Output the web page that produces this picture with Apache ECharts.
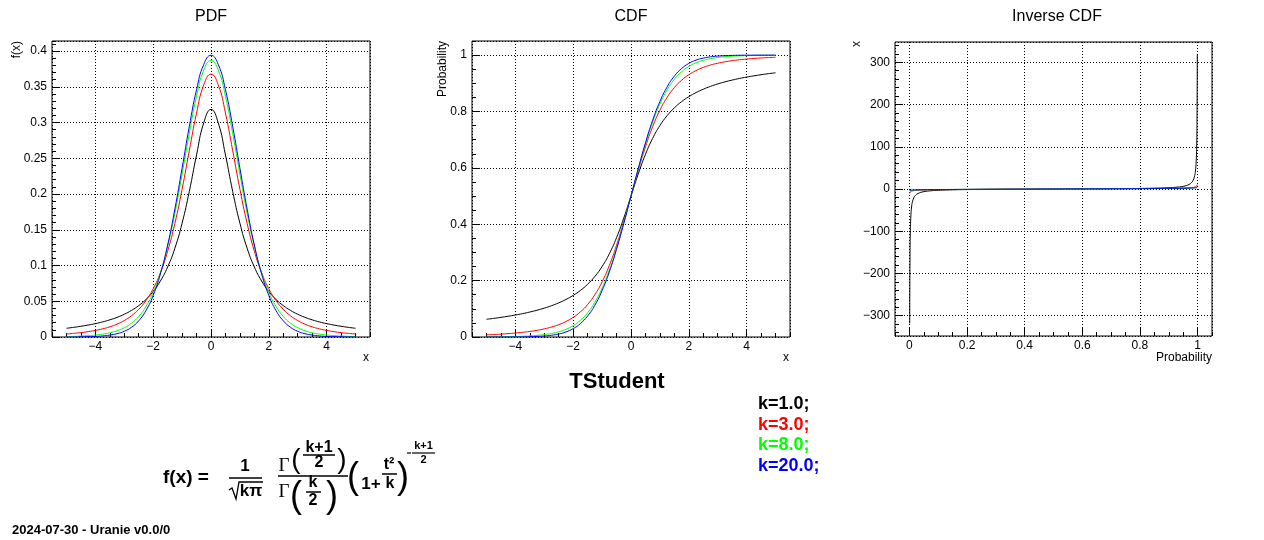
<!DOCTYPE html>
<html><head><meta charset="utf-8">
<script src="https://cdn.jsdelivr.net/npm/echarts@6/dist/echarts.min.js"></script>
<style>html,body{margin:0;padding:0;background:#fff}#c{width:1264px;height:540px}</style>
</head><body><div id="c"></div>
<script>
// ---------------- data ----------------
const xs = [-5,-4.75,-4.5,-4.25,-4,-3.75,-3.5,-3.25,-3,-2.75,-2.5,-2.25,-2,-1.75,-1.5,-1.25,-1,-0.75,-0.5,-0.25,0,0.25,0.5,0.75,1,1.25,1.5,1.75,2,2.25,2.5,2.75,3,3.25,3.5,3.75,4,4.25,4.5,4.75,5];
const pdfK1 = [0.0122,0.0135,0.0150,0.0167,0.0187,0.0211,0.0240,0.0275,0.0318,0.0372,0.0439,0.0525,0.0637,0.0784,0.0979,0.1242,0.1592,0.2037,0.2546,0.2996,0.3183,0.2996,0.2546,0.2037,0.1592,0.1242,0.0979,0.0784,0.0637,0.0525,0.0439,0.0372,0.0318,0.0275,0.0240,0.0211,0.0187,0.0167,0.0150,0.0135,0.0122];
const pdfK3 = [0.0042,0.0051,0.0061,0.0075,0.0092,0.0114,0.0142,0.0180,0.0230,0.0297,0.0387,0.0509,0.0675,0.0900,0.1200,0.1589,0.2067,0.2607,0.3132,0.3527,0.3676,0.3527,0.3132,0.2607,0.2067,0.1589,0.1200,0.0900,0.0675,0.0509,0.0387,0.0297,0.0230,0.0180,0.0142,0.0114,0.0092,0.0075,0.0061,0.0051,0.0042];
const pdfK8 = [0.0007,0.0009,0.0013,0.0019,0.0028,0.0040,0.0059,0.0088,0.0130,0.0194,0.0288,0.0426,0.0624,0.0899,0.1268,0.1731,0.2276,0.2848,0.3367,0.3734,0.3867,0.3734,0.3367,0.2848,0.2276,0.1731,0.1268,0.0899,0.0624,0.0426,0.0288,0.0194,0.0130,0.0088,0.0059,0.0040,0.0028,0.0019,0.0013,0.0009,0.0007];
const pdfK20 = [0.0001,0.0001,0.0003,0.0005,0.0008,0.0015,0.0027,0.0046,0.0080,0.0136,0.0227,0.0369,0.0581,0.0883,0.1286,0.1789,0.2361,0.2945,0.3458,0.3813,0.3940,0.3813,0.3458,0.2945,0.2361,0.1789,0.1286,0.0883,0.0581,0.0369,0.0227,0.0136,0.0080,0.0046,0.0027,0.0015,0.0008,0.0005,0.0003,0.0001,0.0001];

const cdfK1 = [0.0628,0.0660,0.0696,0.0736,0.0780,0.0829,0.0886,0.0950,0.1024,0.1110,0.1211,0.1331,0.1476,0.1652,0.1872,0.2148,0.2500,0.2952,0.3524,0.4220,0.5000,0.5780,0.6476,0.7048,0.7500,0.7852,0.8128,0.8348,0.8524,0.8669,0.8789,0.8890,0.8976,0.9050,0.9114,0.9171,0.9220,0.9264,0.9304,0.9340,0.9372];
const cdfK3 = [0.0077,0.0088,0.0102,0.0120,0.0141,0.0166,0.0197,0.0238,0.0288,0.0353,0.0437,0.0549,0.0697,0.0892,0.1153,0.1500,0.1955,0.2537,0.3257,0.4094,0.5000,0.5906,0.6743,0.7463,0.8045,0.8500,0.8847,0.9108,0.9303,0.9451,0.9563,0.9647,0.9712,0.9762,0.9803,0.9834,0.9859,0.9880,0.9898,0.9912,0.9923];
const cdfK8 = [0.0005,0.0007,0.0010,0.0014,0.0019,0.0028,0.0040,0.0058,0.0085,0.0126,0.0185,0.0273,0.0403,0.0591,0.0860,0.1233,0.1733,0.2374,0.3153,0.4044,0.5000,0.5956,0.6847,0.7626,0.8267,0.8767,0.9140,0.9409,0.9597,0.9727,0.9815,0.9874,0.9915,0.9942,0.9960,0.9972,0.9981,0.9986,0.9990,0.9993,0.9995];
const cdfK20 = [0.0000,0.0001,0.0001,0.0002,0.0003,0.0006,0.0011,0.0020,0.0035,0.0062,0.0106,0.0179,0.0296,0.0477,0.0746,0.1128,0.1646,0.2309,0.3113,0.4026,0.5000,0.5974,0.6887,0.7691,0.8354,0.8872,0.9254,0.9523,0.9704,0.9821,0.9894,0.9938,0.9965,0.9980,0.9989,0.9994,0.9997,0.9998,0.9999,0.9999,1.0000];

const probs = [0.001,0.002,0.003,0.005,0.0075,0.01,0.015,0.02,0.03,0.05,0.075,0.1,0.15,0.2,0.25,0.3,0.35,0.4,0.45,0.5,0.55,0.6,0.65,0.7,0.75,0.8,0.85,0.9,0.925,0.95,0.97,0.98,0.985,0.99,0.9925,0.995,0.997,0.998,0.999];
const invK1 = [-318.31,-159.15,-106.10,-63.66,-42.43,-31.82,-21.20,-15.89,-10.58,-6.31,-4.17,-3.08,-1.96,-1.38,-1.00,-0.73,-0.51,-0.32,-0.16,0,0.16,0.32,0.51,0.73,1.00,1.38,1.96,3.08,4.17,6.31,10.58,15.89,21.20,31.82,42.43,63.66,106.10,159.15,318.31];
const invK3 = [-10.21,-8.00,-7.00,-5.84,-5.00,-4.54,-3.90,-3.48,-2.92,-2.35,-1.92,-1.64,-1.25,-0.98,-0.76,-0.58,-0.42,-0.28,-0.14,0,0.14,0.28,0.42,0.58,0.76,0.98,1.25,1.64,1.92,2.35,2.92,3.48,3.90,4.54,5.00,5.84,7.00,8.00,10.21];
const invK8 = [-4.50,-4.00,-3.70,-3.36,-3.05,-2.90,-2.63,-2.45,-2.19,-1.86,-1.58,-1.40,-1.11,-0.89,-0.71,-0.55,-0.40,-0.26,-0.13,0,0.13,0.26,0.40,0.55,0.71,0.89,1.11,1.40,1.58,1.86,2.19,2.45,2.63,2.90,3.05,3.36,3.70,4.00,4.50];
const invK20 = [-3.55,-3.25,-3.06,-2.85,-2.66,-2.53,-2.33,-2.20,-2.00,-1.72,-1.49,-1.33,-1.06,-0.86,-0.69,-0.53,-0.39,-0.26,-0.13,0,0.13,0.26,0.39,0.53,0.69,0.86,1.06,1.33,1.49,1.72,2.00,2.20,2.33,2.53,2.66,2.85,3.06,3.25,3.55];

const kLabels = ['k=1.0;','k=3.0;','k=8.0;','k=20.0;'];
const panelTitles = ['PDF','CDF','Inverse CDF'];
const invMinorTicks = [-340,-320,-280,-260,-240,-220,-180,-160,-140,-120,-80,-60,-40,-20,20,40,60,80,120,140,160,180,220,240,260,280,320,340];

// ---------------- styles ----------------
const COLORS = ['#000000','#ff0000','#00ff00','#0000ff'];
const FONT = 'Liberation Sans, Arial, Helvetica, sans-serif';
const SERIF = 'Liberation Serif, Times New Roman, serif';

const fmt = v => parseFloat(Number(v).toFixed(4)).toString().replace('-', '\u2212');

function majorAxis(dim, gridIndex, min, max, interval, opts) {
  const a = {
    type: 'value', gridIndex, min, max,
    position: dim === 'x' ? 'bottom' : 'left',
    axisLine: { show: false, onZero: false },
    axisTick: { show: true, inside: true, length: 8, lineStyle: { color: '#000', width: 1 } },
    axisLabel: { show: true, color: '#000', fontFamily: FONT, fontSize: 12,
      margin: dim === 'x' ? 4 : 5, formatter: fmt,
      showMinLabel: opts.showMin, showMaxLabel: opts.showMax },
    splitLine: { show: true, lineStyle: { color: '#000', width: 1, type: [1, 2] } },
    minorTick: { show: false }
  };
  if (interval != null) a.interval = interval;
  return a;
}
function minorAxis(dim, gridIndex, min, max, interval, custom) {
  const a = {
    type: 'value', gridIndex, min, max,
    position: dim === 'x' ? 'bottom' : 'left',
    axisLine: { show: false, onZero: false },
    axisTick: { show: true, inside: true, length: 4, lineStyle: { color: '#000', width: 1 } },
    axisLabel: { show: false },
    splitLine: { show: false }
  };
  if (interval != null) a.interval = interval;
  if (custom) a.axisTick.customValues = custom;
  return a;
}

const grids = [
  { left: 52, top: 41, width: 318, height: 296 },
  { left: 472, top: 41, width: 318, height: 296 },
  { left: 895, top: 42, width: 317, height: 294 }
].map(g => Object.assign(g, { show: true, borderColor: '#000', borderWidth: 1, backgroundColor: 'transparent', containLabel: false }));

const xAxes = [
  majorAxis('x', 0, -5.5, 5.5, null, { showMin: false, showMax: false }),
  minorAxis('x', 0, -5.5, 5.5, 0.5),
  majorAxis('x', 1, -5.5, 5.5, null, { showMin: false, showMax: false }),
  minorAxis('x', 1, -5.5, 5.5, 0.5),
  majorAxis('x', 2, -0.05, 1.05, null, { showMin: false, showMax: false }),
  minorAxis('x', 2, -0.05, 1.05, 0.05)
];
const yAxes = [
  majorAxis('y', 0, 0, 0.414, 0.05, { showMin: true, showMax: false }),
  minorAxis('y', 0, 0, 0.414, 0.01),
  majorAxis('y', 1, 0, 1.05, 0.2, { showMin: true, showMax: false }),
  minorAxis('y', 1, 0, 1.05, 0.05),
  majorAxis('y', 2, -348, 348, null, { showMin: false, showMax: false }),
  minorAxis('y', 2, -348, 348, null, invMinorTicks)
];

const pair = (xv, yv) => xv.map((x, i) => [x, yv[i]]);
const groups = [
  { axis: 0, x: xs, ys: [pdfK1, pdfK3, pdfK8, pdfK20] },
  { axis: 2, x: xs, ys: [cdfK1, cdfK3, cdfK8, cdfK20] },
  { axis: 4, x: probs, ys: [invK1, invK3, invK8, invK20] }
];
const series = [];
groups.forEach(g => {
  g.ys.forEach((yv, k) => {
    series.push({
      type: 'line', xAxisIndex: g.axis, yAxisIndex: g.axis,
      data: pair(g.x, yv), showSymbol: false, symbol: 'none', smooth: true,
      lineStyle: { color: COLORS[k], width: 1 }, itemStyle: { color: COLORS[k] },
      silent: true, clip: true
    });
  });
});

// ---------------- texts / formula ----------------
const T = (x, y, text, font, extra) => Object.assign({
  type: 'text', x, y, silent: true,
  style: Object.assign({ text, font, fill: '#000', textAlign: 'center', textVerticalAlign: 'middle' }, (extra && extra.style) || {})
}, extra && extra.rotation != null ? { rotation: extra.rotation } : {});
const L = (x1, y1, x2, y2, w) => ({ type: 'line', silent: true, shape: { x1, y1, x2, y2 }, style: { stroke: '#000', lineWidth: w || 1.5 } });

const graphics = [
  T(211, 17, panelTitles[0], '16px ' + FONT),
  T(631, 17, panelTitles[1], '16px ' + FONT),
  T(1057, 17, panelTitles[2], '16px ' + FONT),
  // axis names
  T(366, 358, 'x', '12px ' + FONT),
  T(786, 358, 'x', '12px ' + FONT),
  T(1212, 358, 'Probability', '12px ' + FONT, { style: { textAlign: 'right' } }),
  T(17, 41, 'f(x)', '12px ' + FONT, { rotation: Math.PI / 2, style: { textAlign: 'right' } }),
  T(443, 41, 'Probability', '12px ' + FONT, { rotation: Math.PI / 2, style: { textAlign: 'right' } }),
  T(857, 41, 'x', '12px ' + FONT, { rotation: Math.PI / 2, style: { textAlign: 'right' } }),
  // big title
  T(617, 382, 'TStudent', 'bold 22px ' + FONT),
  // date
  T(12, 530, '2024-07-30 - Uranie v0.0/0', 'bold 13px ' + FONT, { style: { textAlign: 'left' } }),
  // formula
  T(163, 478, 'f(x) =', 'bold 19px ' + FONT, { style: { textAlign: 'left' } }),
  T(245, 466, '1', 'bold 17px ' + FONT),
  L(229, 478, 262, 478),
  { type: 'polyline', silent: true, shape: { points: [[229, 490], [232, 488], [236, 499], [239, 482], [263, 482]] }, style: { stroke: '#000', lineWidth: 1.3, fill: null } },
  T(251, 491, 'k\u03c0', 'bold 17px ' + FONT),
  T(284, 466, '\u0393', '19px ' + SERIF),
  T(296, 460, '(', '28px ' + FONT),
  T(319, 448, 'k+1', 'bold 16px ' + FONT),
  L(303, 455, 335, 455),
  T(319, 463, '2', 'bold 16px ' + FONT),
  T(342, 460, ')', '28px ' + FONT),
  L(278, 476, 348, 476),
  T(284, 492, '\u0393', '19px ' + SERIF),
  T(296, 497, '(', '36px ' + FONT),
  T(313, 483, 'k', 'bold 16px ' + FONT),
  L(306, 492, 321, 492),
  T(313, 501, '2', 'bold 16px ' + FONT),
  T(332, 497, ')', '36px ' + FONT),
  T(353, 478, '(', '36px ' + FONT),
  T(371, 484, '1+', 'bold 17px ' + FONT),
  T(389, 465, 't\u00b2', 'bold 16px ' + FONT),
  L(382, 474, 397, 474),
  T(390, 484, 'k', 'bold 16px ' + FONT),
  T(403, 478, ')', '36px ' + FONT),
  L(407, 453, 411, 453, 1.2),
  T(423.5, 446, 'k+1', 'bold 11px ' + FONT),
  L(412, 453, 435, 453, 1.2),
  T(423.5, 459.5, '2', 'bold 11px ' + FONT)
];
kLabels.forEach((s, i) => {
  graphics.push(T(758, 404 + i * 20.7, s, 'bold 18px ' + FONT, { style: { textAlign: 'left', fill: COLORS[i] } }));
});

const chart = echarts.init(document.getElementById('c'), null, { renderer: 'canvas' });
chart.setOption({
  animation: false,
  backgroundColor: '#fff',
  grid: grids,
  xAxis: xAxes,
  yAxis: yAxes,
  series,
  graphic: graphics
});
</script>
</body></html>
